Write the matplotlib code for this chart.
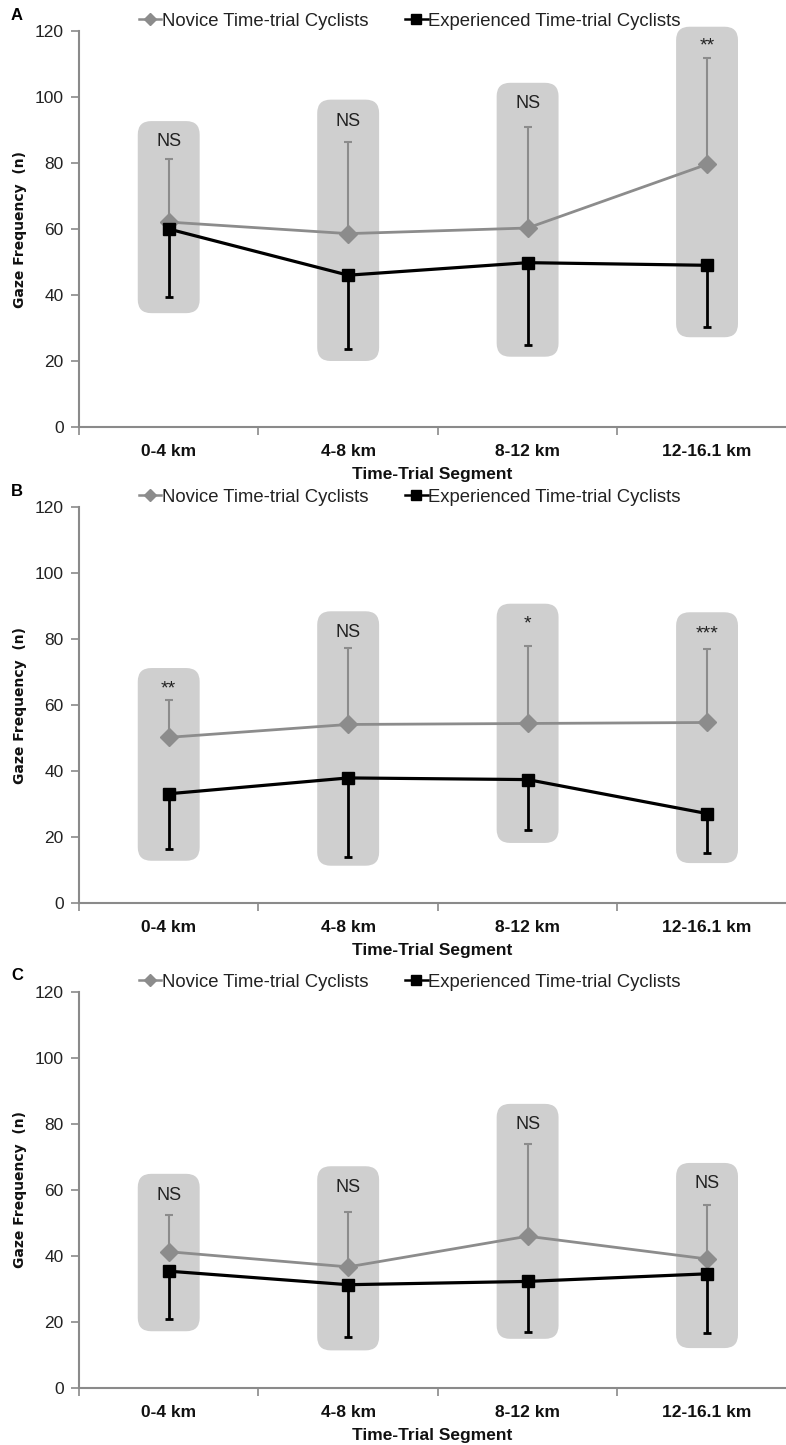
# -*- coding: utf-8 -*-
"""Gaze frequency per time-trial segment, novice vs experienced (panels A-C)."""

import matplotlib
matplotlib.use('Agg')
from matplotlib import pyplot
from matplotlib.patches import FancyBboxPatch
from matplotlib.lines import Line2D

segments = ['0-4 km', '4-8 km', '8-12 km', '12-16.1 km']
panels = ['A', 'B', 'C']

# moyennes et extrémités des barres d'erreur
novice_A = [62.1, 58.6, 60.3, 79.6]
novice_top_A = [81.2, 86.4, 90.8, 111.7]
expert_A = [60.0, 46.0, 49.8, 49.0]
expert_bot_A = [39.3, 23.7, 24.9, 30.3]
box_A = [(34.5, 92.7), (20.0, 99.2), (21.3, 104.3), (27.2, 121.3)]
sig_A = ['NS', 'NS', 'NS', '**']
sig_y_A = [86.5, 92.7, 98.0, 115.5]

novice_B = [50.2, 54.1, 54.4, 54.7]
novice_top_B = [61.6, 77.3, 78.0, 77.0]
expert_B = [33.1, 37.9, 37.4, 27.1]
expert_bot_B = [16.3, 13.9, 22.2, 15.3]
box_B = [(12.8, 71.2), (11.3, 88.4), (18.2, 90.7), (12.1, 88.1)]
sig_B = ['**', 'NS', '*', '***']
sig_y_B = [65.0, 82.0, 84.5, 81.5]

novice_C = [41.3, 36.7, 46.0, 39.1]
novice_top_C = [52.4, 53.4, 73.9, 55.4]
expert_C = [35.4, 31.3, 32.3, 34.6]
expert_bot_C = [20.9, 15.4, 17.1, 16.7]
box_C = [(17.2, 64.9), (11.4, 67.2), (14.9, 86.1), (12.1, 68.2)]
sig_C = ['NS', 'NS', 'NS', 'NS']
sig_y_C = [58.3, 60.9, 79.8, 61.9]

donnees = {
    'A': (novice_A, novice_top_A, expert_A, expert_bot_A, box_A, sig_A, sig_y_A),
    'B': (novice_B, novice_top_B, expert_B, expert_bot_B, box_B, sig_B, sig_y_B),
    'C': (novice_C, novice_top_C, expert_C, expert_bot_C, box_C, sig_C, sig_y_C),
}

police = ['Liberation Sans Narrow', 'Liberation Sans', 'DejaVu Sans']
gris_axe = '#8a8a8a'
gris_nov = '#8c8c8c'
gris_boite = '#cfcfcf'

W, H = 786, 1445
fig = pyplot.figure(figsize=(W / 100, H / 100), dpi=100)

# position (pixels) de l'axe des y : 0 et 120
axes_px = {'A': (427, 31), 'B': (903, 507), 'C': (1388, 992)}
x_gauche = 79
xlim = (-0.5, 3.44)

for lettre in panels:
    nov, nov_top, exp, exp_bot, boites, sig, sig_y = donnees[lettre]
    y0, y120 = axes_px[lettre]
    ax = fig.add_axes([x_gauche / W, 1 - y0 / H, 1 - x_gauche / W,
                       (y0 - y120) / H])
    ax.set_xlim(*xlim)
    ax.set_ylim(0, 120)
    x = list(range(len(segments)))

    # boîtes grises arrondies
    px_x = (W - x_gauche) / (xlim[1] - xlim[0])
    px_y = (y0 - y120) / 120.0
    aspect = px_x / px_y
    for i, (bas, haut) in enumerate(boites):
        largeur = 0.345
        p = FancyBboxPatch((i - largeur / 2, bas), largeur, haut - bas,
                           boxstyle='round,pad=0,rounding_size=0.075',
                           mutation_aspect=aspect, facecolor=gris_boite,
                           edgecolor='none', zorder=0, clip_on=False)
        ax.add_patch(p)

    err_nov = [[0] * 4, [t - m for t, m in zip(nov_top, nov)]]
    err_exp = [[m - b for m, b in zip(exp, exp_bot)], [0] * 4]
    ax.errorbar(x, nov, yerr=err_nov, fmt='none', ecolor=gris_nov,
                elinewidth=1.5, capsize=3, capthick=1.5, zorder=2)
    ax.errorbar(x, exp, yerr=err_exp, fmt='none', ecolor='black',
                elinewidth=2, capsize=3, capthick=2, zorder=2)
    ax.plot(x, nov, color=gris_nov, lw=2, marker='D', ms=9,
            mec=gris_nov, mfc=gris_nov, zorder=3)
    ax.plot(x, exp, color='black', lw=2.3, marker='s', ms=9,
            mec='black', mfc='black', zorder=4)

    for i, s in enumerate(sig):
        taille = 13 if s == 'NS' else 14
        ax.text(i, sig_y[i], s, ha='center', va='center', fontsize=taille,
                family=police, color='#222222')

    for sp in ['top', 'right']:
        ax.spines[sp].set_visible(False)
    for sp in ['left', 'bottom']:
        ax.spines[sp].set_color(gris_axe)
        ax.spines[sp].set_linewidth(1.5)

    ax.set_yticks(range(0, 121, 20))
    ax.set_yticklabels([str(v) for v in range(0, 121, 20)],
                       family=police, fontsize=12.5, color='#222222')
    ax.tick_params(axis='y', length=6, width=1.2, color=gris_axe, pad=5)

    ax.set_xticks([-0.5, 0.5, 1.5, 2.5])
    ax.set_xticklabels([])
    ax.tick_params(axis='x', length=6, width=1.2, color=gris_axe)
    for i, seg in enumerate(segments):
        ax.text(i, -0.062, seg, transform=ax.get_xaxis_transform(),
                ha='center', va='center', fontsize=12.5, weight='bold',
                family=police, color='#111111')
    ax.text(0.5, -0.12, 'Time-Trial Segment', transform=ax.transAxes,
            ha='center', va='center', fontsize=12.5, weight='bold',
            family=police, color='#111111')

    ax.set_ylabel('Gaze Frequency  (n)', fontsize=10, weight='bold',
                  family='DejaVu Sans', color='#111111')
    ax.yaxis.set_label_coords(-0.074, 0.5)

    poignees = [Line2D([], [], color=gris_nov, lw=1.8, marker='D', ms=6.5,
                       mfc=gris_nov, mec=gris_nov),
                Line2D([], [], color='black', lw=1.8, marker='s', ms=6.5)]
    leg = ax.legend(poignees, ['Novice Time-trial Cyclists',
                               'Experienced Time-trial Cyclists'],
                    loc='center', bbox_to_anchor=(0.468, 1.025),
                    ncol=2, frameon=False, handlelength=1.2,
                    handletextpad=0.05, columnspacing=2.0,
                    prop={'family': police, 'size': 13.3})
    for t in leg.get_texts():
        t.set_color('#222222')

    fig.text(17 / W, 1 - (y120 - 16) / H, lettre, fontsize=12,
             weight='bold', family=police, ha='center', va='center')

fig.savefig('out.png', dpi=100)
pyplot.close()
